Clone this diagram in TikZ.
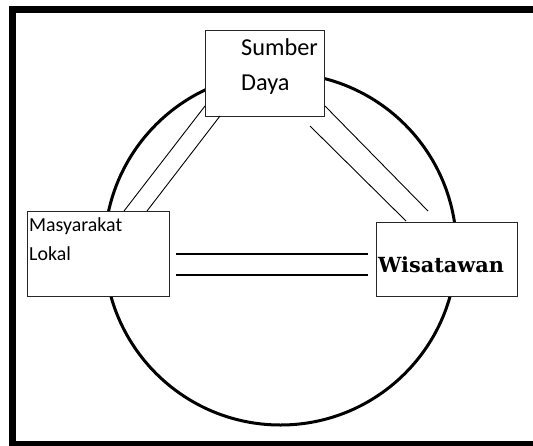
\documentclass[tikz,border=0pt]{standalone}
\usepackage{fontspec}
\setmainfont{Carlito}
\newfontfamily\serifbold{DejaVu Serif}
\begin{document}
\begin{tikzpicture}[x=1pt,y=-1pt,
  box/.style={draw=black!85,line width=1pt,fill=white,rectangle,inner sep=0pt},
  link/.style={draw=black,line width=0.9pt},
  lbl/.style={anchor=base west,inner sep=0pt}]
\useasboundingbox (0,0) rectangle (533,445);
\clip (0,0) rectangle (533,445);
% outer frame
\draw[line width=7pt] (12.5,9) rectangle (540,444.5);
% big circle
\draw[line width=3pt] (280.5,249) circle[radius=176];
% boxes
\node[box,minimum width=119pt,minimum height=86pt] (sd) at (264.5,73) {};
\node[box,minimum width=142pt,minimum height=85pt] (ml) at (98,253.5) {};
\node[box,minimum width=141pt,minimum height=74pt] (ws) at (446.5,259) {};
% texts
\node[lbl,font=\fontsize{24.3}{24.3}\selectfont] (t1) at (241,55) {Sumber};
\node[lbl,font=\fontsize{24.3}{24.3}\selectfont] (t2) at (241,90) {Daya};
\node[lbl,font=\fontsize{19.9}{19.9}\selectfont] (t3) at (29,231) {Masyarakat};
\node[lbl,font=\fontsize{19.9}{19.9}\selectfont] (t4) at (29,260) {Lokal};
\node[lbl,font=\serifbold\bfseries\fontsize{20.8}{20.8}\selectfont] (t5) at (378,272) {Wisatawan};
% connector end points
\coordinate (a1) at (205,106); \coordinate (b1) at (124,211);
\coordinate (a2) at (220,116); \coordinate (b2) at (147,211);
\coordinate (c1) at (325,106); \coordinate (d1) at (428,211);
\coordinate (c2) at (310,126); \coordinate (d2) at (406,221);
\coordinate (e1) at (176,254); \coordinate (f1) at (368,254);
\coordinate (e2) at (176,275); \coordinate (f2) at (368,275);
\draw[link] (a1) -- (b1);
\draw[link] (a2) -- (b2);
\draw[link] (c1) -- (d1);
\draw[link] (c2) -- (d2);
\draw[link,line width=1.2pt] (e1) -- (f1);
\draw[link,line width=1.2pt] (e2) -- (f2);
\end{tikzpicture}
\end{document}
